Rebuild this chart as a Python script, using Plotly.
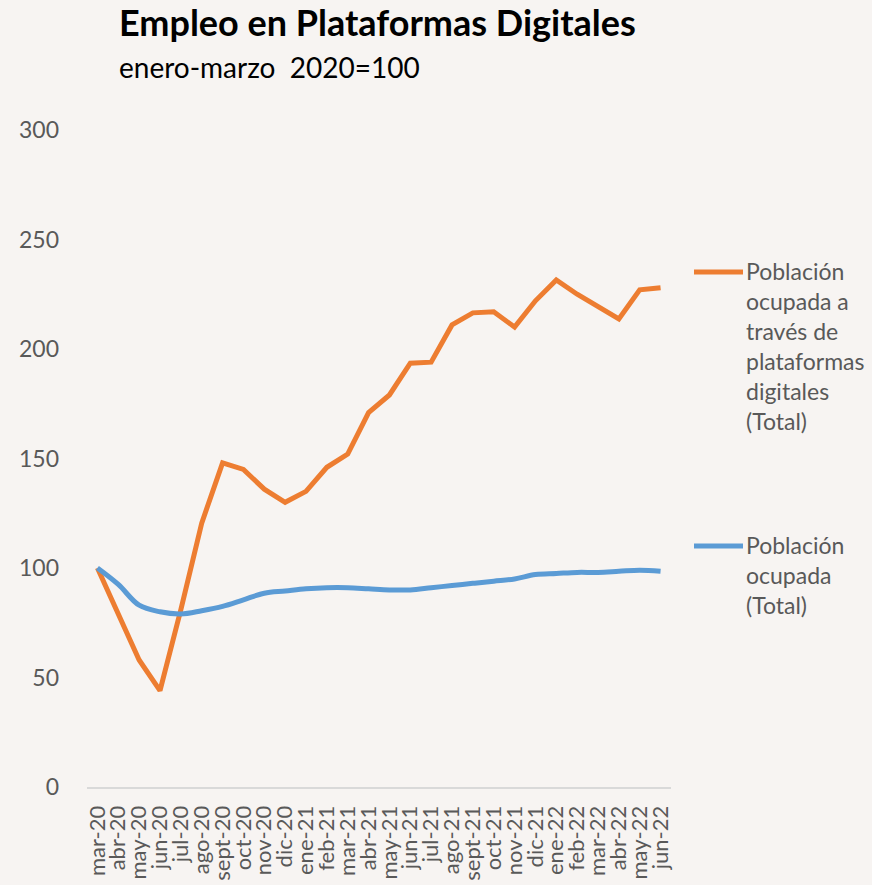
import plotly.graph_objects as go

months = ["mar-20","abr-20","may-20","jun-20","jul-20","ago-20","sept-20","oct-20","nov-20","dic-20",
          "ene-21","feb-21","mar-21","abr-21","may-21","jun-21","jul-21","ago-21","sept-21","oct-21",
          "nov-21","dic-21","ene-22","feb-22","mar-22","abr-22","may-22","jun-22"]

plataformas = [100, 79, 58, 44, 81, 120.5, 148, 145, 136, 130,
               135, 146, 152, 171, 179, 193.5, 194, 211, 216.5, 217,
               210, 222, 231.5, 225, 219.5, 213.7, 227, 228]

ocupada = [100, 92.5, 83, 80, 79, 80.5, 82.5, 85.5, 88.5, 89.5,
           90.5, 91, 91, 90.5, 90, 90, 91, 92, 93, 94,
           95, 97, 97.5, 98, 98, 98.5, 99, 98.5]

y_ticks = [0, 50, 100, 150, 200, 250, 300]

name_plat = "Población<br>ocupada a<br>través de<br>plataformas<br>digitales<br>(Total)"
name_ocup = "Población<br>ocupada<br>(Total)"

BG = "#f7f4f2"
FONT = "Lato, 'Open Sans', sans-serif"
GRAY = "#595959"
ORANGE = "#ED7D31"
BLUE = "#5B9BD5"

W, H = 872, 885
L, R, T, B = 87, 201, 130, 98
PW, PH = W - L - R, H - T - B


def px(x):
    return (x - L) / PW


def py(y):
    return (H - B - y) / PH


fig = go.Figure()
fig.add_trace(go.Scatter(x=months, y=plataformas, mode="lines", name=name_plat,
                         line=dict(color=ORANGE, width=5), showlegend=False))
fig.add_trace(go.Scatter(x=months, y=ocupada, mode="lines", line_shape="spline",
                         name=name_ocup, line=dict(color=BLUE, width=5), showlegend=False))

shapes = []
annotations = []
for color, text, ly in [(ORANGE, name_plat, 272), (BLUE, name_ocup, 546)]:
    shapes.append(dict(type="line", xref="paper", yref="paper",
                       x0=px(694), x1=px(743), y0=py(ly), y1=py(ly),
                       line=dict(color=color, width=5)))
    annotations.append(dict(text=text, xref="paper", yref="paper", x=px(744), y=py(ly - 17),
                            xanchor="left", yanchor="top", align="left", showarrow=False,
                            font=dict(family=FONT, size=23, color=GRAY)))

annotations.append(dict(text="<b>Empleo en Plataformas Digitales</b>", xref="paper", yref="paper",
                        x=px(117), y=py(22), xanchor="left", yanchor="middle", showarrow=False,
                        font=dict(family=FONT, size=36, color="#000000")))
annotations.append(dict(text="enero-marzo  2020=100", xref="paper", yref="paper",
                        x=px(117), y=py(67), xanchor="left", yanchor="middle", showarrow=False,
                        font=dict(family=FONT, size=28, color="#000000")))

fig.update_layout(
    width=W, height=H,
    paper_bgcolor=BG, plot_bgcolor=BG,
    margin=dict(l=L, r=R, t=T, b=B, autoexpand=False),
    font=dict(family=FONT, color=GRAY),
    showlegend=False,
    shapes=shapes,
    annotations=annotations,
    xaxis=dict(
        type="category", range=[-0.5, 27.5],
        tickmode="array", tickvals=months, ticktext=months,
        tickangle=-90, tickfont=dict(family=FONT, size=22, color=GRAY),
        showgrid=False, showline=True, linecolor="#d9d9d9", linewidth=2,
        ticks="", zeroline=False, ticklabelstandoff=8, automargin=False,
    ),
    yaxis=dict(
        range=[0, 300], tickvals=y_ticks, ticktext=[str(v) for v in y_ticks],
        tickfont=dict(family=FONT, size=23, color=GRAY),
        showgrid=False, showline=False, zeroline=False, ticks="",
        ticklabelstandoff=27, automargin=False,
    ),
)

fig.write_html("out.html", config={"displayModeBar": False},
               post_script="document.body.style.margin='0';document.body.style.background='#f7f4f2';document.body.style.overflow='hidden';")
